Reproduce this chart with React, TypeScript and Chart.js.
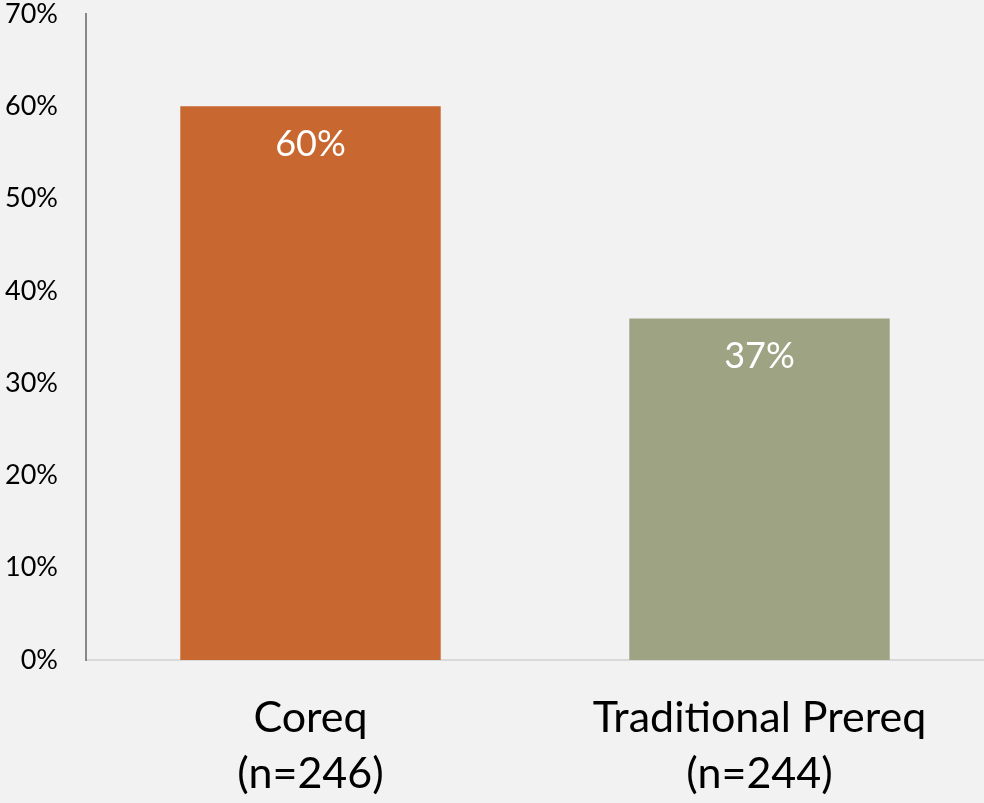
import React, { useEffect, useRef } from "react";
import { Chart, registerables } from "chart.js";

Chart.register(...registerables);

const categories: string[][] = [["Coreq", "(n=246)"], ["Traditional Prereq", "(n=244)"]];
const values: number[] = [60, 37];
const barColors: string[] = ["#C8672F", "#9EA383"];
const yTicksMax = 70;
const yStep = 10;

const FONT = "Lato, 'Open Sans', sans-serif";

const valueLabels = {
  id: "valueLabels",
  afterDatasetsDraw(chart: any) {
    const ctx = chart.ctx;
    const meta = chart.getDatasetMeta(0);
    ctx.save();
    ctx.fillStyle = "#ffffff";
    ctx.font = `36px ${FONT}`;
    ctx.textAlign = "center";
    ctx.textBaseline = "middle";
    meta.data.forEach((bar: any, i: number) => {
      ctx.fillText(values[i] + "%", bar.x, bar.y + 38);
    });
    ctx.restore();
  },
};

export default function App() {
  const ref = useRef<HTMLCanvasElement>(null);
  useEffect(() => {
    document.body.style.margin = "0";
    const chart = new Chart(ref.current!, {
      type: "bar",
      data: {
        labels: categories,
        datasets: [
          {
            data: values,
            backgroundColor: barColors,
            barPercentage: 0.58,
            categoryPercentage: 1,
          },
        ],
      },
      options: {
        animation: false,
        responsive: false,
        maintainAspectRatio: false,
        layout: { padding: { top: 14, right: 0, left: 0, bottom: 0 } },
        plugins: { legend: { display: false }, tooltip: { enabled: false } },
        scales: {
          x: {
            grid: { display: false, drawTicks: false },
            border: { display: true, color: "#D9D9D9", width: 2 },
            ticks: {
              color: "#000000",
              font: { family: FONT, size: 43, lineHeight: 1.3 },
              padding: 30,
              maxRotation: 0,
              autoSkip: false,
            },
            afterFit(scale: any) {
              scale.height = 143;
              scale.paddingLeft = 0;
              scale.paddingRight = 0;
            },
          },
          y: {
            min: 0,
            max: yTicksMax,
            grid: { display: false, drawTicks: false },
            border: { display: true, color: "#888888", width: 2 },
            ticks: {
              stepSize: yStep,
              color: "#000000",
              font: { family: FONT, size: 27 },
              padding: 28,
              callback: (v: any) => v + "%",
            },
            afterFit(scale: any) {
              scale.width = 86;
              scale.paddingTop = 0;
              scale.paddingBottom = 0;
            },
          },
        },
      },
      plugins: [valueLabels],
    });
    return () => chart.destroy();
  }, []);
  return (
    <div style={{ position: "absolute", left: 0, top: 0, width: 984, height: 803, background: "#F2F2F2" }}>
      <canvas ref={ref} width={984} height={803} style={{ width: 984, height: 803 }} />
    </div>
  );
}
